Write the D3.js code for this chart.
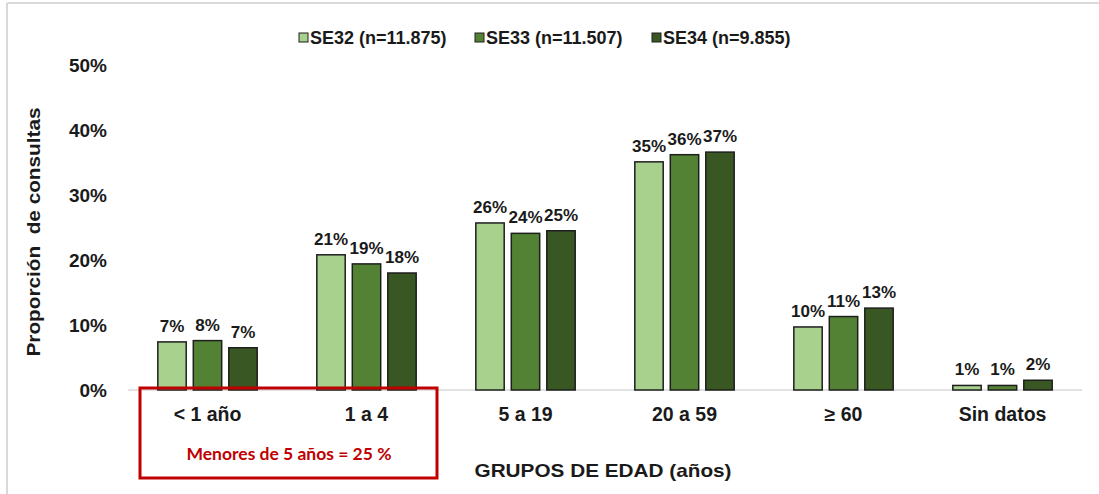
<!DOCTYPE html>
<html><head><meta charset="utf-8">
<script src="https://cdn.jsdelivr.net/npm/d3@7"></script>
<style>body{margin:0;background:#fff}svg{display:block}text{font-family:"Liberation Sans",Arial,sans-serif;font-weight:bold}</style>
</head><body><svg id="c" width="1099" height="494"></svg>
<script>
const categories = ["< 1 año","1 a 4","5 a 19","20 a 59","≥ 60","Sin datos"];
const seriesNames = ["SE32 (n=11.875)","SE33 (n=11.507)","SE34 (n=9.855)"];
const seriesColors = ["#a9d18e","#548235","#385723"];
const se32 = [7.4,20.8,25.7,35.1,9.7,0.7];
const se33 = [7.6,19.4,24.1,36.2,11.3,0.7];
const se34 = [6.5,18.0,24.5,36.6,12.6,1.5];
const valueLabels = [
  ["7%","21%","26%","35%","10%","1%"],
  ["8%","19%","24%","36%","11%","1%"],
  ["7%","18%","25%","37%","13%","2%"]
];
const yTicks = [0,10,20,30,40,50];
const series = [se32,se33,se34];

(function(){
const svg = d3.select("#c");
svg.append("line").attr("x1",7).attr("x2",1099).attr("y1",3).attr("y2",3).attr("stroke","#d9d9d9").attr("stroke-width",2);
svg.append("line").attr("x1",7).attr("x2",7).attr("y1",3).attr("y2",494).attr("stroke","#d9d9d9").attr("stroke-width",2);

const pLeft=128,pRight=1082,pTop=65,pBottom=390;
const x0 = d3.scaleBand().domain(categories).range([pLeft,pRight]).paddingInner(0.375).paddingOuter(0.1875);
const x1 = d3.scaleBand().domain([0,1,2]).range([0,x0.bandwidth()]).paddingInner(0.2);
const y = d3.scaleLinear().domain([0,50]).range([pBottom,pTop]);

const yAxis = d3.axisLeft(y).tickValues(yTicks).tickFormat(d=>d+"%").tickSize(0).tickPadding(0);
const ga = svg.append("g").attr("transform",`translate(107,0)`).call(yAxis);
ga.select(".domain").remove();
ga.selectAll("text").attr("font-size",19).attr("fill","#1a1a1a").attr("dy","0.36em");

svg.append("line").attr("x1",pLeft).attr("x2",pRight).attr("y1",y(0)).attr("y2",y(0)).attr("stroke","#d9d9d9").attr("stroke-width",1.5);

categories.forEach((c,i)=>{
  series.forEach((s,j)=>{
    const bx = x0(c)+x1(j), bw = x1.bandwidth();
    svg.append("rect").attr("x",bx).attr("y",y(s[i])).attr("width",bw).attr("height",y(0)-y(s[i]))
      .attr("fill",seriesColors[j]).attr("stroke","#1e1e1e").attr("stroke-width",1.5);
    svg.append("text").attr("x",bx+bw/2).attr("y",y(s[i])-10).attr("text-anchor","middle")
      .attr("font-size",17).attr("fill","#1a1a1a").text(valueLabels[j][i]);
  });
});

const xAxis = d3.axisBottom(x0).tickSize(0).tickPadding(0);
const gx = svg.append("g").attr("transform",`translate(0,${pBottom})`).call(xAxis);
gx.select(".domain").remove();
gx.selectAll("text").attr("font-size",19.5).attr("fill","#1a1a1a").attr("dy","0").attr("y",31);

svg.append("text").attr("x",603).attr("y",477).attr("text-anchor","middle").attr("font-size",18.5)
  .attr("textLength",257).attr("lengthAdjust","spacingAndGlyphs").attr("fill","#1a1a1a").text("GRUPOS DE EDAD (años)");
svg.append("text").attr("transform","translate(40,232) rotate(-90)").attr("text-anchor","middle").attr("font-size",19)
  .attr("textLength",249).attr("lengthAdjust","spacingAndGlyphs").attr("fill","#1a1a1a").style("white-space","pre").text("Proporción  de consultas");

svg.append("rect").attr("x",140).attr("y",388).attr("width",297).attr("height",90).attr("fill","none").attr("stroke","#c00000").attr("stroke-width",3);
svg.append("text").attr("x",289).attr("y",460).attr("text-anchor","middle").attr("font-size",17)
  .attr("textLength",205).attr("lengthAdjust","spacingAndGlyphs").attr("fill","#c00000")
  .style("font-family","Lato,'Open Sans',sans-serif").style("font-weight","700").text("Menores de 5 años = 25 %");

const legX = [299,475,652];
seriesNames.forEach((n,j)=>{
  svg.append("rect").attr("x",legX[j]).attr("y",33).attr("width",9).attr("height",9).attr("fill",seriesColors[j]).attr("stroke","#1e1e1e").attr("stroke-width",1);
  svg.append("text").attr("x",legX[j]+11).attr("y",44).attr("font-size",18).attr("fill","#1a1a1a").text(n);
});
})();
</script></body></html>
